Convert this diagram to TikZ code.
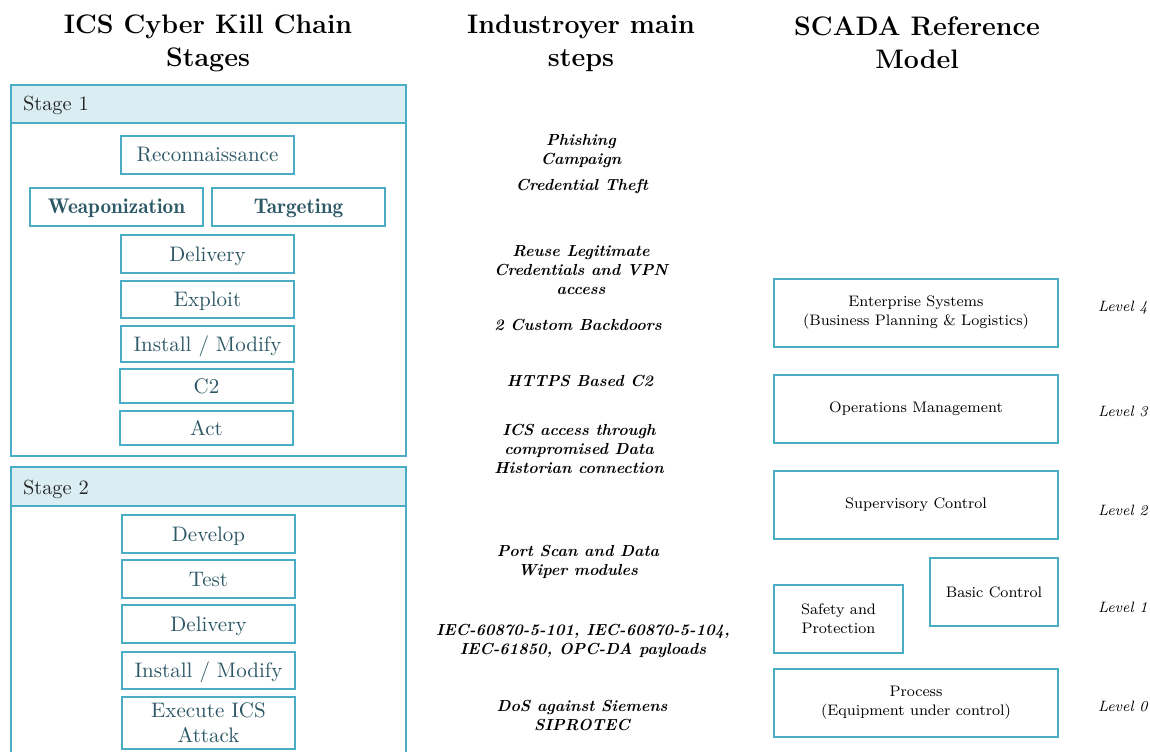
\documentclass[tikz,border=0pt]{standalone}
\begin{document}
\definecolor{kcborder}{RGB}{75,172,198}
\definecolor{kcfill}{RGB}{218,237,243}
\definecolor{kctext}{RGB}{45,88,102}
\begin{tikzpicture}[x=0.5pt,y=-0.5pt,
  every node/.style={inner sep=0pt, outer sep=0pt},
  title/.style={font=\fontsize{13.4}{16.5}\selectfont\bfseries, align=center},
  outer/.style={draw=kcborder, line width=1pt},
  header/.style={draw=kcborder, fill=kcfill, line width=1pt},
  stagelbl/.style={font=\fontsize{10.2}{12}\selectfont, text=black!85, anchor=west},
  kc/.style={draw=kcborder, line width=1pt, fill=white, text=kctext,
    font=\fontsize{10.5}{12.6}\selectfont, align=center,
    minimum width=86.5pt, minimum height=19pt, text height=8pt, text depth=1pt},
  kcb/.style={kc, font=\fontsize{10.6}{12}\fontseries{b}\selectfont},
  ind/.style={font=\fontsize{8}{9.5}\selectfont\bfseries\itshape, align=center},
  lvlbox/.style={draw=kcborder, line width=1pt, font=\fontsize{7.6}{9.5}\selectfont,
    align=center, minimum height=34pt},
  lvl/.style={font=\fontsize{7.5}{9}\selectfont\itshape, anchor=west}]
\useasboundingbox (0,0) rectangle (1150,751);
\begin{scope}
\clip (0,0) rectangle (1150,751);

% column titles
\node[title] (t1) at (208,43) {ICS Cyber Kill Chain\\Stages};
\node[title] (t2) at (581,43) {Industroyer main\\steps};
\node[title] (t3) at (917,43) {SCADA Reference\\Model};

% Stage 1
\node[outer, minimum width=197.5pt, minimum height=185.5pt] (s1) at (208.5,270.5) {};
\node[header, minimum width=197.5pt, minimum height=19pt] (s1h) at (208.5,104) {};
\node[stagelbl] (s1l) at (23,105) {Stage 1};
\node[kc] (recon) at (207.5,154.5) {Reconnaissance};
\node[kcb] (weap) at (116.5,206.5) {Weaponization};
\node[kcb] (targ) at (298.5,206.5) {Targeting};
\node[kc] (deliv1) at (207.5,254) {Delivery};
\node[kc, minimum height=18.5pt] (expl) at (207.5,299.5) {Exploit};
\node[kc, minimum height=18pt] (inst1) at (207.5,344) {Install / Modify};
\node[kc, minimum height=17pt] (c2) at (206.5,386) {C2};
\node[kc, minimum height=17pt] (act) at (206.5,428) {Act};

% Stage 2
\node[outer, minimum width=197.5pt, minimum height=171pt] (s2) at (208.5,638) {};
\node[header, minimum width=197.5pt, minimum height=19.5pt] (s2h) at (208.5,486.5) {};
\node[stagelbl] (s2l) at (23,489) {Stage 2};
\node[kc] (dev) at (208.5,534) {Develop};
\node[kc] (test) at (208.5,579) {Test};
\node[kc] (deliv2) at (208.5,624) {Delivery};
\node[kc, minimum height=18.5pt] (inst2) at (208.5,670.5) {Install / Modify};
\node[kc, minimum height=26pt, text height=, text depth=, font=\fontsize{10.5}{12.8}\selectfont] (exec) at (208.5,722.5) {Execute ICS\\Attack};

% Industroyer steps
\node[ind] (phish) at (581,151) {Phishing\\Campaign};
\node[ind] (cred) at (582,186) {Credential Theft};
\node[ind] (reuse) at (581,270) {Reuse Legitimate\\Credentials and VPN\\access};
\node[ind] (backd) at (578,325) {2 Custom Backdoors};
\node[ind] (https) at (580,381) {HTTPS Based C2};
\node[ind] (icsacc) at (579,449) {ICS access through\\compromised Data\\Historian connection};
\node[ind] (scan) at (578,562) {Port Scan and Data\\Wiper modules};
\node[ind] (iec) at (583,641) {IEC-60870-5-101, IEC-60870-5-104,\\IEC-61850, OPC-DA payloads};
\node[ind] (dos) at (582,715) {DoS against Siemens\\SIPROTEC};

% SCADA reference model
\node[lvlbox, minimum width=142pt] (l4) at (916,313) {Enterprise Systems\\(Business Planning \& Logistics)};
\node[lvlbox, minimum width=142pt] (l3) at (916,408.5) {Operations Management};
\node[lvlbox, minimum width=142pt] (l2) at (916,505) {Supervisory Control};
\node[lvlbox, minimum width=64pt] (basic) at (994,592) {Basic Control};
\node[lvlbox, minimum width=64.5pt] (safe) at (838.5,619) {Safety and\\Protection};
\node[lvlbox, minimum width=142pt] (l0) at (916,703) {Process\\(Equipment under control)};

\node[lvl] (lv4) at (1098,308) {Level 4};
\node[lvl] (lv3) at (1098,411) {Level 3};
\node[lvl] (lv2) at (1098,510) {Level 2};
\node[lvl] (lv1) at (1098,607) {Level 1};
\node[lvl] (lv0) at (1098,706) {Level 0};
\end{scope}
\end{tikzpicture}
\end{document}
